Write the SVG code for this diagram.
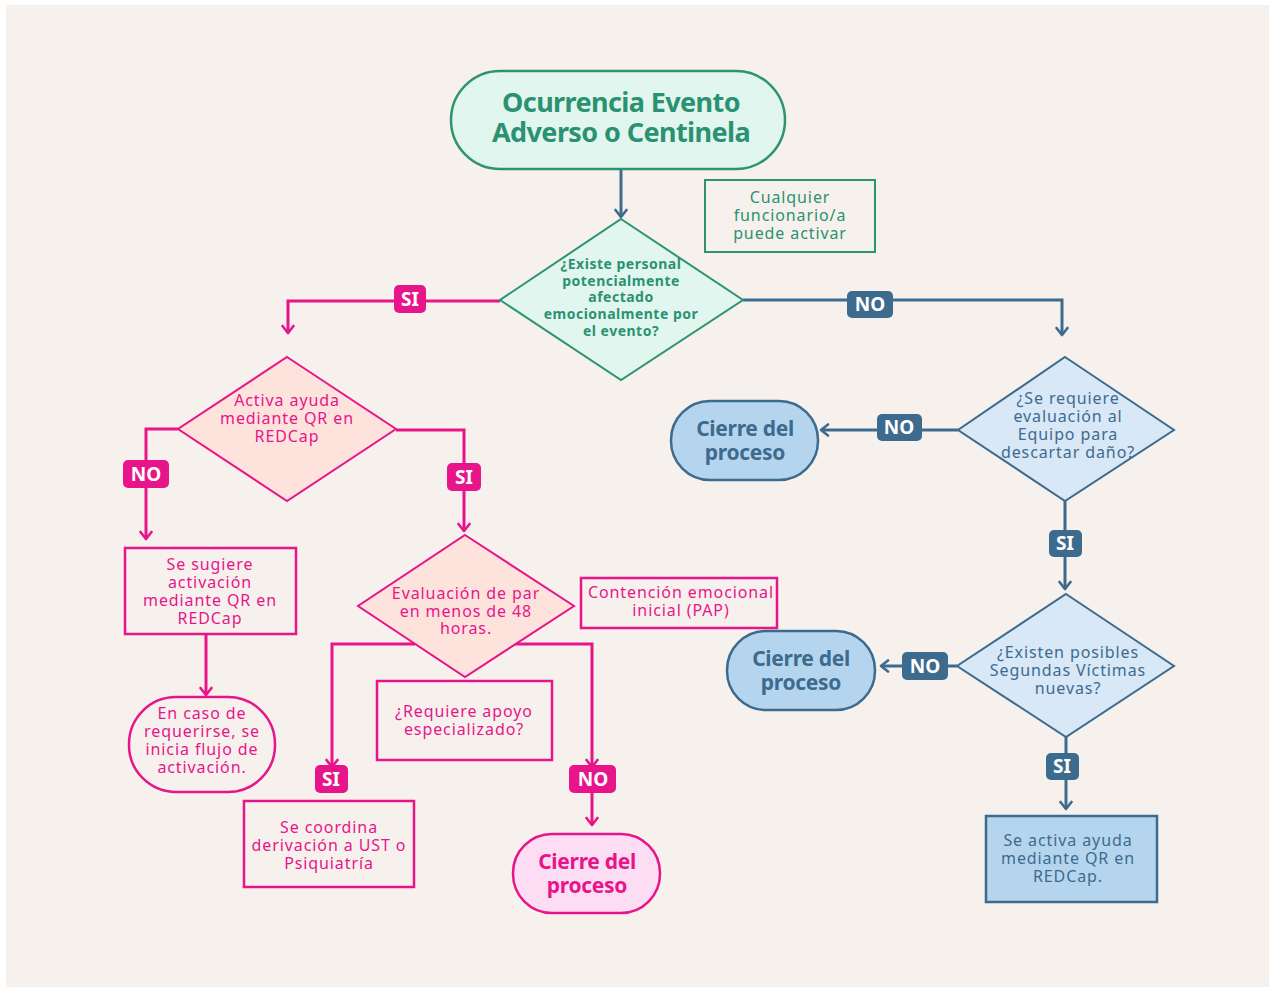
<svg xmlns="http://www.w3.org/2000/svg" width="1269" height="987" viewBox="0 0 1269 987">
<style>
.t{font-family:"Noto Sans","Open Sans",sans-serif;font-size:16px;letter-spacing:0.9px;text-anchor:middle}
.tb{font-family:"Noto Sans","Open Sans",sans-serif;font-weight:bold;text-anchor:middle}
.g{fill:#2A9270}.p{fill:#E8158A}.b{fill:#3D6B8E}
.lbl{font-family:"Noto Sans","Liberation Sans",sans-serif;font-weight:bold;font-size:19px;fill:#fff;text-anchor:middle}
.cp{fill:none;stroke:#E8158A;stroke-width:3}
.cb{fill:none;stroke:#3D6B8E;stroke-width:3}
</style>
<defs>
<marker id="ap" viewBox="0 0 12 14" refX="10" refY="7" markerWidth="12" markerHeight="14" markerUnits="userSpaceOnUse" orient="auto"><path d="M3,1.5 L10,7 L3,12.5" fill="none" stroke="#E8158A" stroke-width="2.6" stroke-linecap="round" stroke-linejoin="round"/></marker>
<marker id="ab" viewBox="0 0 12 14" refX="10" refY="7" markerWidth="12" markerHeight="14" markerUnits="userSpaceOnUse" orient="auto"><path d="M3,1.5 L10,7 L3,12.5" fill="none" stroke="#3D6B8E" stroke-width="2.6" stroke-linecap="round" stroke-linejoin="round"/></marker>
</defs>
<rect width="1269" height="987" fill="#fff"/>
<rect x="6" y="5" width="1263" height="982" fill="#F6F1ED"/>

<g id="connectors">
<path class="cb" d="M621,169 V217" marker-end="url(#ab)"/>
<path class="cp" d="M500,301 H288 V333" marker-end="url(#ap)"/>
<path class="cb" d="M743,300 H1062 V335" marker-end="url(#ab)"/>
<path class="cp" d="M178,429 H146 V539" marker-end="url(#ap)"/>
<path class="cp" d="M396,430 H464 V531" marker-end="url(#ap)"/>
<path class="cp" d="M206,634 V695" marker-end="url(#ap)"/>
<path class="cp" d="M415,644 H332 V767" marker-end="url(#ap)"/>
<path class="cp" d="M515,644 H592 V767" marker-end="url(#ap)"/>
<path class="cp" d="M592,790 V825" marker-end="url(#ap)"/>
<path class="cb" d="M958,430 H821" marker-end="url(#ab)"/>
<path class="cb" d="M1065,501 V589" marker-end="url(#ab)"/>
<path class="cb" d="M957,666 H881" marker-end="url(#ab)"/>
<path class="cb" d="M1066,737 V809" marker-end="url(#ab)"/>
<g id="labels">
<rect x="394" y="285" width="32" height="28" rx="5" fill="#E8158A"/><text class="lbl" x="410" y="306">SI</text>
<rect x="847" y="291" width="46" height="27" rx="5" fill="#3D6B8E"/><text class="lbl" x="870" y="311">NO</text>
<rect x="123" y="460" width="46" height="28" rx="5" fill="#E8158A"/><text class="lbl" x="146" y="481">NO</text>
<rect x="447" y="463" width="34" height="28" rx="5" fill="#E8158A"/><text class="lbl" x="464" y="484">SI</text>
<rect x="315" y="765" width="33" height="28" rx="5" fill="#E8158A"/><text class="lbl" x="331" y="786">SI</text>
<rect x="569" y="765" width="47" height="28" rx="5" fill="#E8158A"/><text class="lbl" x="593" y="786">NO</text>
<rect x="877" y="414" width="45" height="27" rx="5" fill="#3D6B8E"/><text class="lbl" x="899" y="434">NO</text>
<rect x="1049" y="530" width="33" height="27" rx="5" fill="#3D6B8E"/><text class="lbl" x="1065" y="550">SI</text>
<rect x="902" y="652" width="46" height="28" rx="5" fill="#3D6B8E"/><text class="lbl" x="925" y="673">NO</text>
<rect x="1046" y="753" width="33" height="27" rx="5" fill="#3D6B8E"/><text class="lbl" x="1062" y="773">SI</text>
</g>
</g>

<g id="start">
<rect x="451" y="71" width="334" height="98" rx="49" fill="#E2F6F0" stroke="#2E9470" stroke-width="2.5"/>
<text class="tb g" font-size="27" letter-spacing="-0.6" x="621" y="112">Ocurrencia Evento</text>
<text class="tb g" font-size="27" letter-spacing="-0.6" x="621" y="142">Adverso o Centinela</text>
</g>
<g id="note-activar">
<rect x="705" y="180" width="170" height="72" fill="none" stroke="#2E9470" stroke-width="2"/>
<text class="t g" x="790" y="203">Cualquier</text>
<text class="t g" x="790" y="221">funcionario/a</text>
<text class="t g" x="790" y="239">puede activar</text>
</g>
<g id="d-existe">
<polygon points="621,219 743,300 621,380 500,300" fill="#E2F6F0" stroke="#2E9470" stroke-width="2"/>
<g font-family="Noto Sans,sans-serif" font-weight="bold" font-size="14" letter-spacing="0.5" fill="#2A9270" text-anchor="middle">
<text x="621" y="269">¿Existe personal</text>
<text x="621" y="286">potencialmente</text>
<text x="621" y="302">afectado</text>
<text x="621" y="319">emocionalmente por</text>
<text x="621" y="336">el evento?</text>
</g>
</g>
<g id="d-activa">
<polygon points="287,357 396,429 287,501 178,429" fill="#FDE3DC" stroke="#E8158A" stroke-width="2"/>
<text class="t p" x="287" y="406">Activa ayuda</text>
<text class="t p" x="287" y="424">mediante QR en</text>
<text class="t p" x="287" y="442">REDCap</text>
</g>
<g id="sugiere">
<rect x="125" y="548" width="171" height="86" fill="none" stroke="#E8158A" stroke-width="2.5"/>
<text class="t p" x="210" y="570">Se sugiere</text>
<text class="t p" x="210" y="588">activación</text>
<text class="t p" x="210" y="606">mediante QR en</text>
<text class="t p" x="210" y="624">REDCap</text>
</g>
<g id="en-caso">
<rect x="129" y="697" width="146" height="95" rx="47" fill="none" stroke="#E8158A" stroke-width="2.5"/>
<text class="t p" font-size="15" letter-spacing="0.4" x="202" y="719">En caso de</text>
<text class="t p" font-size="15" letter-spacing="0.4" x="202" y="737">requerirse, se</text>
<text class="t p" font-size="15" letter-spacing="0.4" x="202" y="755">inicia flujo de</text>
<text class="t p" font-size="15" letter-spacing="0.4" x="202" y="773">activación.</text>
</g>
<g id="d-evaluacion">
<polygon points="465,535 574,606 465,677 358,606" fill="#FDE3DC" stroke="#E8158A" stroke-width="2"/>
<text class="t p" x="466" y="599">Evaluación de par</text>
<text class="t p" x="466" y="617">en menos de 48</text>
<text class="t p" x="466" y="634">horas.</text>
</g>
<g id="note-pap">
<rect x="581" y="578" width="196" height="50" fill="none" stroke="#E8158A" stroke-width="2.5"/>
<text class="t p" x="681" y="598">Contención emocional</text>
<text class="t p" x="681" y="616">inicial (PAP)</text>
</g>
<g id="note-apoyo">
<rect x="377" y="681" width="175" height="79" fill="none" stroke="#E8158A" stroke-width="2.5"/>
<text class="t p" x="464" y="717">¿Requiere apoyo</text>
<text class="t p" x="464" y="735">especializado?</text>
</g>
<g id="coordina">
<rect x="244" y="801" width="170" height="86" fill="none" stroke="#E8158A" stroke-width="2.5"/>
<text class="t p" x="329" y="833">Se coordina</text>
<text class="t p" x="329" y="851">derivación a UST o</text>
<text class="t p" x="329" y="869">Psiquiatría</text>
</g>
<g id="cierre-rosa">
<rect x="513" y="834" width="147" height="79" rx="39" fill="#FDDDF3" stroke="#E8158A" stroke-width="2.5"/>
<text class="tb p" font-size="21" letter-spacing="-0.3" x="587" y="869">Cierre del</text>
<text class="tb p" font-size="21" letter-spacing="-0.3" x="587" y="893">proceso</text>
</g>
<g id="d-requiere">
<polygon points="1065,357 1174,430 1065,501 958,430" fill="#D8E8F6" stroke="#3D6B8E" stroke-width="2"/>
<text class="t b" x="1068" y="404">¿Se requiere</text>
<text class="t b" x="1068" y="422">evaluación al</text>
<text class="t b" x="1068" y="440">Equipo para</text>
<text class="t b" x="1068" y="458">descartar daño?</text>
</g>
<g id="cierre-azul-1">
<rect x="671" y="401" width="147" height="79" rx="39" fill="#B5D5EE" stroke="#3D6B8E" stroke-width="2.5"/>
<text class="tb b" font-size="21" letter-spacing="-0.3" x="745" y="436">Cierre del</text>
<text class="tb b" font-size="21" letter-spacing="-0.3" x="745" y="460">proceso</text>
</g>
<g id="d-segundas">
<polygon points="1066,594 1174,666 1066,737 957,666" fill="#D8E8F6" stroke="#3D6B8E" stroke-width="2"/>
<text class="t b" x="1068" y="658">¿Existen posibles</text>
<text class="t b" x="1068" y="676">Segundas Víctimas</text>
<text class="t b" x="1068" y="694">nuevas?</text>
</g>
<g id="cierre-azul-2">
<rect x="727" y="631" width="148" height="79" rx="39" fill="#B5D5EE" stroke="#3D6B8E" stroke-width="2.5"/>
<text class="tb b" font-size="21" letter-spacing="-0.3" x="801" y="666">Cierre del</text>
<text class="tb b" font-size="21" letter-spacing="-0.3" x="801" y="690">proceso</text>
</g>
<g id="activa-ayuda">
<rect x="986" y="816" width="171" height="86" fill="#B5D5EE" stroke="#3D6B8E" stroke-width="2.5"/>
<text class="t b" x="1068" y="846">Se activa ayuda</text>
<text class="t b" x="1068" y="864">mediante QR en</text>
<text class="t b" x="1068" y="882">REDCap.</text>
</g>
</svg>
